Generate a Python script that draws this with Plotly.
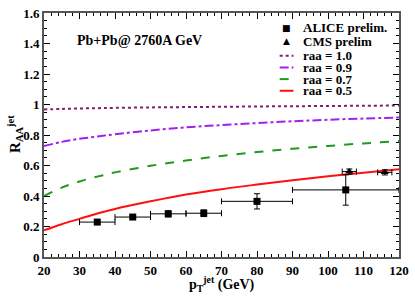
import plotly.graph_objects as go

# ALICE prelim.
alice_x = [35, 45, 55, 65, 80, 105]
alice_y = [0.229, 0.262, 0.283, 0.287, 0.365, 0.44]
alice_xerr = [5, 5, 5, 5, 10, 15]
alice_yerr = [0.015, 0.015, 0.02, 0.022, 0.05, 0.1]

# CMS prelim
cms_x = [106, 116]
cms_y = [0.56, 0.555]
cms_xerr = [2, 2]
cms_yerr = [0.017, 0.017]

# model curves
pt = [20, 25, 30, 35, 40, 50, 60, 70, 80, 90, 100, 110, 120]
raa10 = [0.968, 0.971, 0.974, 0.976, 0.978, 0.981, 0.983, 0.985, 0.987, 0.989, 0.990, 0.992, 0.993]
raa09 = [0.727, 0.755, 0.775, 0.79, 0.805, 0.83, 0.85, 0.865, 0.878, 0.89, 0.90, 0.908, 0.915]
raa07 = [0.40, 0.455, 0.495, 0.527, 0.555, 0.598, 0.633, 0.663, 0.688, 0.71, 0.728, 0.745, 0.76]
raa05 = [0.175, 0.215, 0.25, 0.285, 0.315, 0.365, 0.41, 0.445, 0.475, 0.503, 0.53, 0.553, 0.575]

x_ticks = [20, 30, 40, 50, 60, 70, 80, 90, 100, 110, 120]
y_ticks = [0, 0.2, 0.4, 0.6, 0.8, 1.0, 1.2, 1.4, 1.6]
y_tick_labels = ["0", "0.2", "0.4", "0.6", "0.8", "1", "1.2", "1.4", "1.6"]

FONT = "Liberation Serif, Times New Roman, serif"
W, H = 415, 296
ML, MR, MT, MB = 44, 11, 6, 39
PW, PH = W - ML - MR, H - MT - MB


def px(xp):
    return (xp - ML) / PW


def py(yp):
    return (H - MB - yp) / PH


colors = {"1.0": "#7f1f6f", "0.9": "#a020f0", "0.7": "#1f9a1f", "0.5": "#ff1010"}
dashes = {"1.0": "dot", "0.9": "dashdot", "0.7": "dash", "0.5": "solid"}

fig = go.Figure()
fig.add_trace(go.Scatter(x=pt, y=raa10, mode="lines", name="raa = 1.0",
                         line=dict(color=colors["1.0"], width=2, dash="dot", shape="spline")))
fig.add_trace(go.Scatter(x=pt, y=raa09, mode="lines", name="raa = 0.9",
                         line=dict(color=colors["0.9"], width=2, dash="dashdot", shape="spline")))
fig.add_trace(go.Scatter(x=pt, y=raa07, mode="lines", name="raa = 0.7",
                         line=dict(color=colors["0.7"], width=2, dash="dash", shape="spline")))
fig.add_trace(go.Scatter(x=pt, y=raa05, mode="lines", name="raa = 0.5",
                         line=dict(color=colors["0.5"], width=2, shape="spline")))
fig.add_trace(go.Scatter(
    x=alice_x, y=alice_y, mode="markers", name="ALICE prelim.",
    marker=dict(symbol="square", size=7, color="black"),
    error_x=dict(type="data", array=alice_xerr, color="black", thickness=1, width=3),
    error_y=dict(type="data", array=alice_yerr, color="black", thickness=1, width=3),
))
fig.add_trace(go.Scatter(
    x=cms_x, y=cms_y, mode="markers", name="CMS prelim",
    marker=dict(symbol="triangle-up", size=7, color="black"),
    error_x=dict(type="data", array=cms_xerr, color="black", thickness=1, width=3),
    error_y=dict(type="data", array=cms_yerr, color="black", thickness=1, width=3),
))

axis_common = dict(
    showline=True, linecolor="#555", linewidth=2, mirror="ticks",
    ticks="inside", ticklen=6, tickcolor="black", tickwidth=1,
    showgrid=False, zeroline=False,
    tickfont=dict(family=FONT, size=13, color="black"),
)

fig.update_xaxes(range=[20, 120], tickvals=x_ticks,
                 ticktext=["<b>%d</b>" % v for v in x_ticks],
                 minor=dict(ticks="inside", ticklen=3, dtick=2, tickcolor="black"),
                 **axis_common)
fig.update_yaxes(range=[0, 1.6], tickvals=y_ticks,
                 ticktext=["<b>%s</b>" % t for t in y_tick_labels],
                 minor=dict(ticks="inside", ticklen=3, dtick=0.05, tickcolor="black"),
                 **axis_common)

# axis titles
fig.add_annotation(text="<b>p<sub>T</sub><sup>jet</sup> (GeV)</b>", xref="paper", yref="paper",
                   x=0.5, y=py(285), xanchor="center", yanchor="middle", showarrow=False,
                   font=dict(family=FONT, size=14, color="black"))
fig.add_annotation(text="<b>R<sub>AA</sub><sup>jet</sup></b>", xref="paper", yref="paper",
                   x=px(14), y=py(130), xanchor="center", yanchor="middle", showarrow=False,
                   textangle=-90, font=dict(family=FONT, size=15, color="black"))

fig.add_annotation(text="<b>Pb+Pb@ 2760A GeV</b>", xref="paper", yref="paper",
                   x=px(75), y=py(34), showarrow=False, xanchor="left", yanchor="middle",
                   font=dict(family=FONT, size=14, color="black"))

# manual compact legend
legend_rows = [
    ("ALICE prelim.", 21, "marker", "■"),
    ("CMS prelim", 35, "marker", "▲"),
    ("raa = 1.0", 50, "line", "1.0"),
    ("raa = 0.9", 62, "line", "0.9"),
    ("raa = 0.7", 74, "line", "0.7"),
    ("raa = 0.5", 86, "line", "0.5"),
]
for label, yp, kind, key in legend_rows:
    fig.add_annotation(text="<b>%s</b>" % label, xref="paper", yref="paper",
                       x=px(305), y=py(yp), xanchor="left", yanchor="middle", showarrow=False,
                       font=dict(family=FONT, size=13, color="black"))
    if kind == "marker":
        fig.add_annotation(text=key, xref="paper", yref="paper",
                           x=px(290), y=py(yp), xanchor="center", yanchor="middle",
                           showarrow=False, font=dict(family="DejaVu Sans", size=9, color="black"))
    else:
        fig.add_shape(type="line", xref="paper", yref="paper",
                      x0=px(283), x1=px(297), y0=py(yp), y1=py(yp),
                      line=dict(color=colors[key], width=2, dash=dashes[key]))

fig.update_layout(
    width=W, height=H,
    margin=dict(l=ML, r=MR, t=MT, b=MB),
    paper_bgcolor="white", plot_bgcolor="white",
    showlegend=False,
)

fig.write_html("out.html", config={"displayModeBar": False},
               post_script="document.body.style.margin='0px';document.body.style.padding='0px';")
